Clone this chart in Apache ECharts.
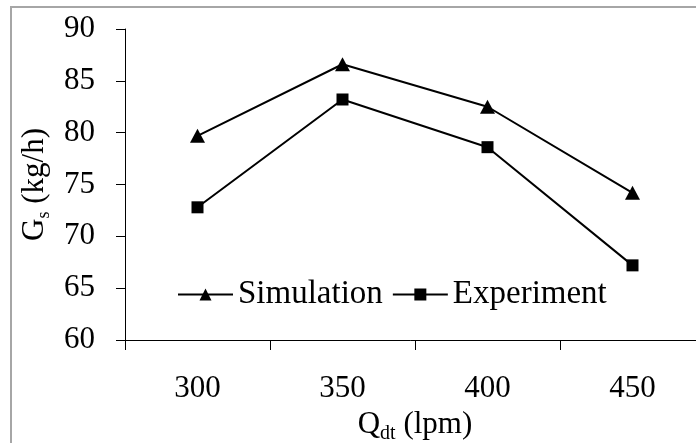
<!DOCTYPE html>
<html>
<head>
<meta charset="utf-8">
<script src="https://cdn.jsdelivr.net/npm/echarts@6/dist/echarts.min.js"></script>
<style>
  html, body { margin: 0; padding: 0; background: #fff; }
  #chart { width: 696px; height: 443px; }
</style>
</head>
<body>
<div id="chart"></div>
<script>
// Flow rate categories (lpm)
const flowRates = ['300', '350', '400', '450'];
// Solid mass flow rate Gs (kg/h)
const simulation = [79.7, 86.6, 82.5, 74.2];
const experiment = [72.8, 83.2, 78.6, 67.2];
// Vertical axis range and step
const yMin = 60, yMax = 90, yStep = 5;

const FONT = '"Liberation Serif", "Times New Roman", serif';
const INK = '#000';

const chart = echarts.init(document.getElementById('chart'), null, { renderer: 'canvas' });

chart.setOption({
  animation: false,
  backgroundColor: '#fff',
  textStyle: { fontFamily: FONT, color: INK },
  graphic: [{
    type: 'rect',
    shape: { x: 11, y: 7, width: 720, height: 460 },
    style: { fill: 'none', stroke: '#a6a6a6', lineWidth: 2 },
    silent: true
  }],
  grid: { left: 125, top: 29, width: 580, height: 311, containLabel: false, outerBoundsMode: 'none' },
  legend: {
    left: 172,
    top: 273,
    itemWidth: 55,
    itemHeight: 15,
    itemGap: 9,
    textStyle: { fontFamily: FONT, fontSize: 33, color: INK },
    data: ['Simulation', 'Experiment']
  },
  xAxis: {
    type: 'category',
    data: flowRates,
    boundaryGap: true,
    name: '{a|Q}{s|dt}{a| (lpm)}',
    nameLocation: 'middle',
    nameGap: 65,
    nameTextStyle: {
      rich: {
        a: { fontFamily: FONT, fontSize: 31, color: INK, lineHeight: 38 },
        s: { fontFamily: FONT, fontSize: 20, color: INK, lineHeight: 20, verticalAlign: 'bottom' }
      }
    },
    axisLine: { lineStyle: { color: INK, width: 1 } },
    axisTick: { show: true, length: 10, lineStyle: { color: INK } },
    axisLabel: { fontFamily: FONT, fontSize: 31, color: INK, margin: 33 },
    splitLine: { show: false }
  },
  yAxis: {
    type: 'value',
    min: yMin,
    max: yMax,
    interval: yStep,
    name: '{a|G}{s|s}{a| (kg/h)}',
    nameLocation: 'middle',
    nameRotate: 90,
    nameGap: 72,
    nameTextStyle: {
      rich: {
        a: { fontFamily: FONT, fontSize: 31, color: INK, lineHeight: 36 },
        s: { fontFamily: FONT, fontSize: 18, color: INK, lineHeight: 18, verticalAlign: 'bottom' }
      }
    },
    axisLine: { show: true, lineStyle: { color: INK, width: 1 } },
    axisTick: { show: true, length: 9, lineStyle: { color: INK } },
    axisLabel: { fontFamily: FONT, fontSize: 31, color: INK, margin: 30 },
    splitLine: { show: false }
  },
  series: [
    {
      name: 'Simulation',
      type: 'line',
      data: simulation,
      symbol: 'triangle',
      symbolSize: [15, 14],
      showAllSymbol: true,
      itemStyle: { color: INK },
      lineStyle: { color: INK, width: 2 }
    },
    {
      name: 'Experiment',
      type: 'line',
      data: experiment,
      symbol: 'rect',
      symbolSize: 12,
      showAllSymbol: true,
      itemStyle: { color: INK },
      lineStyle: { color: INK, width: 2 }
    }
  ]
});
</script>
</body>
</html>
